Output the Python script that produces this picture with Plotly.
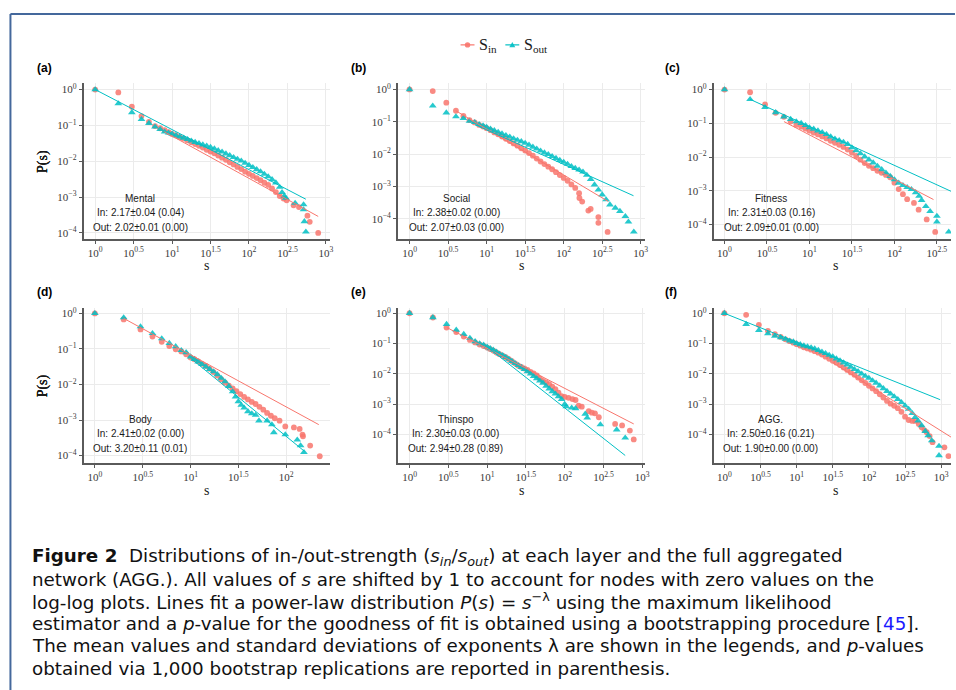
import plotly.graph_objects as go

W, H = 956, 690
SALMON = "#F8766D"
TEAL = "#00BFC4"

# ---------------- data (log10 s, log10 P(s)) ----------------
mental_in = [(0, 0), (.301, -.08), (.477, -.48), (.602, -.74), (.699, -.90), (.778, -1.02), (.845, -1.08), (.903, -1.13), (.954, -1.19), (1.0, -1.24),
             (1.05, -1.28), (1.10, -1.33), (1.15, -1.37), (1.20, -1.42), (1.25, -1.47), (1.30, -1.52), (1.35, -1.57), (1.40, -1.62), (1.45, -1.68), (1.50, -1.73),
             (1.55, -1.78), (1.60, -1.84), (1.65, -1.90), (1.70, -1.96), (1.75, -2.03), (1.80, -2.09), (1.85, -2.16), (1.90, -2.22), (1.95, -2.29), (2.00, -2.35),
             (2.05, -2.41), (2.10, -2.47), (2.15, -2.53), (2.20, -2.60), (2.25, -2.66), (2.30, -2.76), (2.35, -2.86), (2.40, -2.97), (2.45, -3.04),
             (2.49, -3.09), (2.58, -3.23), (2.65, -3.28), (2.76, -3.52), (2.79, -3.69), (2.90, -4.00)]
mental_out = [(0, 0), (.301, -.39), (.477, -.64), (.602, -.83), (.699, -.94), (.778, -1.04), (.845, -1.11), (.903, -1.18), (.954, -1.21), (1.0, -1.24),
              (1.05, -1.28), (1.10, -1.32), (1.15, -1.35), (1.20, -1.39), (1.25, -1.43), (1.30, -1.47), (1.35, -1.50), (1.40, -1.54), (1.45, -1.57), (1.50, -1.61),
              (1.55, -1.65), (1.60, -1.70), (1.65, -1.74), (1.70, -1.79), (1.75, -1.84), (1.80, -1.89), (1.85, -1.94), (1.90, -1.99), (1.95, -2.05), (2.00, -2.11),
              (2.05, -2.17), (2.10, -2.23), (2.15, -2.29), (2.20, -2.36), (2.25, -2.43), (2.30, -2.51), (2.35, -2.60), (2.40, -2.72), (2.43, -2.87), (2.46, -2.97),
              (2.48, -3.03), (2.60, -3.17), (2.71, -3.21), (2.71, -3.35), (2.72, -3.68), (2.74, -3.97)]
social_in = [(0, 0), (.301, -.05), (.477, -.41), (.602, -.66), (.699, -.82), (.778, -.95), (.845, -1.02), (.903, -1.10), (.954, -1.15), (1.0, -1.20),
             (1.05, -1.26), (1.10, -1.33), (1.15, -1.39), (1.20, -1.46), (1.25, -1.53), (1.30, -1.60), (1.35, -1.67), (1.40, -1.74), (1.45, -1.82), (1.50, -1.89),
             (1.55, -1.97), (1.60, -2.05), (1.65, -2.14), (1.70, -2.23), (1.75, -2.31), (1.80, -2.39), (1.85, -2.47), (1.90, -2.56), (1.95, -2.65), (2.00, -2.74),
             (2.05, -2.83), (2.10, -2.94), (2.15, -3.05), (2.20, -3.21), (2.204, -3.36), (2.24, -3.47), (2.32, -3.75), (2.35, -3.70), (2.45, -3.95), (2.45, -4.13),
             (2.57, -4.41)]
social_out = [(0, 0), (.301, -.51), (.477, -.72), (.602, -.84), (.699, -.89), (.778, -.98), (.845, -1.02), (.903, -1.08), (.954, -1.12), (1.0, -1.17),
              (1.05, -1.22), (1.10, -1.27), (1.15, -1.32), (1.20, -1.37), (1.25, -1.42), (1.30, -1.47), (1.35, -1.52), (1.40, -1.57), (1.45, -1.61), (1.50, -1.66),
              (1.55, -1.72), (1.60, -1.78), (1.65, -1.84), (1.70, -1.90), (1.75, -1.96), (1.80, -2.01), (1.85, -2.07), (1.90, -2.13), (1.95, -2.19), (2.00, -2.25),
              (2.05, -2.31), (2.10, -2.38), (2.15, -2.44), (2.20, -2.49), (2.25, -2.55), (2.30, -2.65), (2.35, -2.78), (2.40, -2.95), (2.45, -3.11), (2.50, -3.26),
              (2.55, -3.41), (2.60, -3.57), (2.67, -3.67), (2.73, -3.77), (2.80, -3.93), (2.84, -4.10), (2.91, -4.41)]
fitness_in = [(0, 0), (.301, -.08), (.477, -.44), (.602, -.69), (.699, -.81), (.778, -.95), (.845, -1.05), (.903, -1.10), (.954, -1.16), (1.0, -1.22),
              (1.05, -1.28), (1.10, -1.33), (1.15, -1.39), (1.20, -1.45), (1.25, -1.52), (1.30, -1.58), (1.35, -1.64), (1.40, -1.70), (1.45, -1.78), (1.50, -1.87),
              (1.55, -1.97), (1.60, -2.08), (1.65, -2.18), (1.70, -2.26), (1.75, -2.33), (1.80, -2.41), (1.85, -2.47), (1.90, -2.53), (1.95, -2.60), (2.00, -2.76),
              (2.05, -2.95), (2.10, -3.10), (2.15, -3.25), (2.23, -3.36), (2.285, -3.56), (2.38, -3.85), (2.48, -4.22)]
fitness_out = [(0, 0), (.301, -.29), (.477, -.53), (.602, -.68), (.699, -.81), (.778, -.88), (.845, -.95), (.903, -1.00), (.954, -1.06), (1.0, -1.13),
               (1.05, -1.17), (1.10, -1.22), (1.15, -1.27), (1.20, -1.33), (1.25, -1.40), (1.30, -1.46), (1.35, -1.51), (1.40, -1.56), (1.45, -1.62), (1.50, -1.72),
               (1.55, -1.81), (1.60, -1.90), (1.65, -1.99), (1.70, -2.08), (1.75, -2.17), (1.80, -2.27), (1.85, -2.37), (1.90, -2.47), (1.95, -2.57), (2.00, -2.67),
               (2.05, -2.77), (2.10, -2.84), (2.15, -2.90), (2.20, -2.96), (2.25, -3.05), (2.29, -3.16), (2.32, -3.28), (2.37, -3.46), (2.42, -3.61), (2.50, -3.75),
               (2.50, -3.92), (2.64, -4.22)]
body_in = [(0, 0), (.301, -.17), (.477, -.45), (.602, -.65), (.699, -.80), (.778, -.92), (.845, -1.01), (.903, -1.07), (.954, -1.15), (1.0, -1.24),
           (1.04, -1.29), (1.08, -1.35), (1.12, -1.42), (1.16, -1.48), (1.20, -1.56), (1.24, -1.65), (1.28, -1.75), (1.32, -1.85), (1.36, -1.95), (1.40, -2.03),
           (1.44, -2.11), (1.48, -2.19), (1.52, -2.27), (1.56, -2.35), (1.60, -2.42), (1.64, -2.49), (1.68, -2.55), (1.72, -2.63), (1.76, -2.71), (1.80, -2.80),
           (1.84, -2.88), (1.88, -2.95), (1.93, -3.02), (1.99, -3.18), (2.08, -3.21), (2.14, -3.25), (2.17, -3.41), (2.175, -3.46), (2.25, -3.72), (2.35, -4.02)]
body_out = [(0, 0), (.301, -.12), (.477, -.37), (.602, -.56), (.699, -.71), (.778, -.84), (.845, -.93), (.903, -1.04), (.954, -1.10), (1.0, -1.22),
            (1.04, -1.29), (1.08, -1.36), (1.12, -1.43), (1.16, -1.50), (1.20, -1.57), (1.24, -1.64), (1.28, -1.72), (1.32, -1.82), (1.36, -1.92), (1.40, -2.05),
            (1.44, -2.20), (1.47, -2.35), (1.50, -2.48), (1.53, -2.58), (1.56, -2.66), (1.60, -2.76), (1.64, -2.82), (1.68, -2.86), (1.715, -3.02), (1.80, -3.02),
            (1.85, -3.13), (1.87, -3.35), (1.99, -3.41), (2.115, -3.56), (2.15, -3.72), (2.185, -3.91)]
thinspo_in = [(0, 0), (.301, -.14), (.477, -.47), (.602, -.62), (.699, -.77), (.778, -.88), (.845, -.96), (.903, -1.03), (.954, -1.08), (1.0, -1.13),
              (1.04, -1.18), (1.08, -1.23), (1.12, -1.29), (1.16, -1.35), (1.20, -1.40), (1.24, -1.45), (1.28, -1.51), (1.32, -1.58), (1.36, -1.65), (1.40, -1.72),
              (1.44, -1.77), (1.48, -1.82), (1.52, -1.87), (1.56, -1.93), (1.60, -1.98), (1.64, -2.05), (1.68, -2.15), (1.72, -2.23), (1.76, -2.28), (1.80, -2.34),
              (1.84, -2.42), (1.88, -2.50), (1.92, -2.62), (1.96, -2.73), (2.00, -2.76), (2.05, -2.79), (2.10, -2.83), (2.14, -2.86), (2.18, -3.05), (2.22, -3.08),
              (2.31, -3.23), (2.35, -3.28), (2.39, -3.30), (2.44, -3.43), (2.65, -3.65), (2.74, -3.70), (2.84, -3.87), (2.89, -4.16)]
thinspo_out = [(0, 0), (.301, -.14), (.477, -.36), (.602, -.55), (.699, -.69), (.778, -.82), (.845, -.93), (.903, -1.00), (.954, -1.04), (1.0, -1.11),
               (1.04, -1.16), (1.08, -1.21), (1.12, -1.27), (1.16, -1.34), (1.20, -1.39), (1.24, -1.45), (1.28, -1.51), (1.32, -1.58), (1.36, -1.65), (1.40, -1.72),
               (1.44, -1.78), (1.48, -1.85), (1.52, -1.92), (1.56, -2.00), (1.60, -2.08), (1.64, -2.15), (1.68, -2.23), (1.72, -2.30), (1.76, -2.40), (1.80, -2.49),
               (1.84, -2.58), (1.88, -2.66), (1.92, -2.75), (1.96, -2.84), (2.00, -3.00), (2.02, -3.08), (2.09, -3.12), (2.14, -3.14), (2.265, -3.32), (2.29, -3.45),
               (2.46, -3.67), (2.67, -3.84), (2.78, -4.11)]
agg_in = [(0, 0), (.301, -.05), (.477, -.38), (.602, -.58), (.699, -.69), (.778, -.78), (.845, -.86), (.903, -.92), (.954, -.97), (1.0, -1.02),
          (1.05, -1.07), (1.10, -1.12), (1.15, -1.16), (1.20, -1.20), (1.25, -1.25), (1.30, -1.30), (1.35, -1.36), (1.40, -1.43), (1.45, -1.50), (1.50, -1.57),
          (1.55, -1.63), (1.60, -1.71), (1.65, -1.79), (1.70, -1.87), (1.75, -1.95), (1.80, -2.03), (1.85, -2.12), (1.90, -2.21), (1.95, -2.30), (2.00, -2.39),
          (2.05, -2.48), (2.10, -2.57), (2.15, -2.67), (2.20, -2.78), (2.25, -2.89), (2.30, -2.98), (2.35, -3.05), (2.40, -3.13), (2.45, -3.25), (2.50, -3.41),
          (2.55, -3.52), (2.60, -3.55), (2.64, -3.55), (2.69, -3.65), (2.73, -3.76), (2.77, -3.86), (2.80, -3.92), (2.84, -4.05), (2.88, -4.25), (3.045, -4.42),
          (3.10, -4.71)]
agg_out = [(0, 0), (.301, -.36), (.477, -.56), (.602, -.67), (.699, -.75), (.778, -.80), (.845, -.85), (.903, -.91), (.954, -.94), (1.0, -.99),
           (1.05, -1.03), (1.10, -1.07), (1.15, -1.10), (1.20, -1.13), (1.25, -1.17), (1.30, -1.22), (1.35, -1.27), (1.40, -1.32), (1.45, -1.38), (1.50, -1.43),
           (1.55, -1.50), (1.60, -1.56), (1.65, -1.63), (1.70, -1.70), (1.75, -1.77), (1.80, -1.85), (1.85, -1.92), (1.90, -2.00), (1.95, -2.07), (2.00, -2.14),
           (2.05, -2.22), (2.10, -2.30), (2.15, -2.39), (2.20, -2.48), (2.25, -2.57), (2.30, -2.66), (2.35, -2.75), (2.40, -2.84), (2.45, -2.94), (2.50, -3.05),
           (2.55, -3.16), (2.60, -3.30), (2.64, -3.43), (2.68, -3.55), (2.73, -3.70), (2.78, -3.89), (2.82, -4.03), (2.87, -4.20), (2.97, -4.38), (2.97, -4.69)]

# fitted power-law lines: (log10 s, log10 P) at both ends
mental_fit_in = [(0.9, -1.18), (2.9, -3.54)]
mental_fit_out = [(0, 0), (2.74, -3.06)]
social_fit_in = [(0.6, -0.66), (2.58, -3.47)]
social_fit_out = [(0.85, -1.09), (2.906, -3.29)]
fitness_fit_in = [(0.7, -0.95), (2.46, -3.26)]
fitness_fit_out = [(0.301, -0.29), (2.67, -3.02)]
body_fit_in = [(0.301, -0.14), (2.34, -3.13)]
body_fit_out = [(1.0, -1.26), (2.19, -3.88)]
thinspo_fit_in = [(0.48, -0.47), (2.89, -3.65)]
thinspo_fit_out = [(1.0, -1.11), (2.78, -4.69)]
agg_fit_in = [(1.5, -1.63), (3.14, -4.09)]
agg_fit_out = [(0, 0), (2.986, -2.85)]

panel_tags = ["(a)", "(b)", "(c)", "(d)", "(e)", "(f)"]
panel_names = ["Mental", "Social", "Fitness", "Body", "Thinspo", "AGG."]
in_stats = ["In: 2.17±0.04 (0.04)", "In: 2.38±0.02 (0.00)", "In: 2.31±0.03 (0.16)",
            "In: 2.41±0.02 (0.00)", "In: 2.30±0.03 (0.00)", "In: 2.50±0.16 (0.21)"]
out_stats = ["Out: 2.02±0.01 (0.00)", "Out: 2.07±0.03 (0.00)", "Out: 2.09±0.01 (0.00)",
             "Out: 3.20±0.11 (0.01)", "Out: 2.94±0.28 (0.89)", "Out: 1.90±0.00 (0.00)"]
x_tick_exps = [0, 0.5, 1, 1.5, 2, 2.5, 3]
x_tick_labels = ["0", "0.5", "1", "1.5", "2", "2.5", "3"]
y_tick_exps = [0, -1, -2, -3, -4]
y_tick_labels = ["0", "−1", "−2", "−3", "−4"]
legend_labels = ["S<sub>in</sub>", "S<sub>out</sub>"]

in_series = [mental_in, social_in, fitness_in, body_in, thinspo_in, agg_in]
out_series = [mental_out, social_out, fitness_out, body_out, thinspo_out, agg_out]
fit_in = [mental_fit_in, social_fit_in, fitness_fit_in, body_fit_in, thinspo_fit_in, agg_fit_in]
fit_out = [mental_fit_out, social_fit_out, fitness_fit_out, body_fit_out, thinspo_fit_out, agg_fit_out]

# ---------------- layout (pixel geometry) ----------------
boxes = [(84, 332, 81.7, 237.7), (400, 648, 81.7, 237.7), (717.3, 956, 81.7, 237.7),
         (84, 332, 306.7, 462.7), (400, 648, 306.7, 462.7), (717.3, 956, 306.7, 462.7)]
x_ranges = [(-0.151, 3.057), (-0.151, 3.05), (-0.129, 2.666), (-0.118, 2.46), (-0.15, 3.03), (-0.15, 3.136)]
y_ranges = [(-4.17, 0.17), (-4.63, 0.185), (-4.43, 0.18), (-4.22, 0.157), (-4.95, 0.18), (-4.95, 0.18)]
text_centers = [(141, 196.7), (458.5, 196.7), (775.5, 196.7), (141, 418.3), (458, 418.3), (775, 418.3)]
tag_pos = [(35, 66.5), (351, 66.5), (666, 66.5), (35, 291), (351, 291), (666, 291)]
s_title_x = [208, 524, 840, 208, 524, 840]


def fx(px):
    return px / W


def fy(py):
    return 1 - py / H


def unlog(pts):
    return [10 ** a for a, _ in pts], [10 ** b for _, b in pts]


fig = go.Figure()
annotations = []
AX = dict(linecolor="#5a5a5a", linewidth=1.6, showline=True, mirror=False, ticks="outside",
          ticklen=3, tickwidth=1.2, tickcolor="#5a5a5a", showgrid=True, gridcolor="#ebebeb",
          gridwidth=1, zeroline=False, type="log",
          tickfont=dict(family="Liberation Serif", size=11, color="#3a3a3a"))

for i in range(6):
    n = "" if i == 0 else str(i + 1)
    xa, ya = "x" + n, "y" + n
    x0, x1, y0, y1 = boxes[i]
    fig.update_layout(**{
        "xaxis" + n: dict(AX, domain=[fx(x0), fx(x1)], range=list(x_ranges[i]), anchor=ya,
                          tickvals=[10 ** v for v in x_tick_exps],
                          ticktext=["10<sup>%s</sup>" % t for t in x_tick_labels]),
        "yaxis" + n: dict(AX, domain=[fy(y1), fy(y0)], range=list(y_ranges[i]), anchor=xa,
                          tickvals=[10 ** v for v in y_tick_exps],
                          ticktext=["10<sup>%s</sup>" % t for t in y_tick_labels]),
    })
    xs, ys = unlog(in_series[i])
    fig.add_trace(go.Scatter(x=xs, y=ys, mode="markers", xaxis=xa, yaxis=ya, showlegend=False,
                             marker=dict(symbol="circle", size=5.8, color=SALMON, opacity=0.85)))
    xs, ys = unlog(out_series[i])
    fig.add_trace(go.Scatter(x=xs, y=ys, mode="markers", xaxis=xa, yaxis=ya, showlegend=False,
                             marker=dict(symbol="triangle-up", size=6.8, color=TEAL, opacity=0.85)))
    xs, ys = unlog(fit_in[i])
    fig.add_trace(go.Scatter(x=xs, y=ys, mode="lines", xaxis=xa, yaxis=ya, showlegend=False,
                             line=dict(color=SALMON, width=1)))
    xs, ys = unlog(fit_out[i])
    fig.add_trace(go.Scatter(x=xs, y=ys, mode="lines", xaxis=xa, yaxis=ya, showlegend=False,
                             line=dict(color=TEAL, width=1)))

    cx, cy = text_centers[i]
    for k, txt in enumerate([panel_names[i], in_stats[i], out_stats[i]]):
        annotations.append(dict(x=fx(cx), y=fy(cy + 14.6 * k), xref="paper", yref="paper", text=txt,
                                showarrow=False, xanchor="center", yanchor="middle",
                                font=dict(family="Liberation Sans", size=10, color="#1a1a1a")))
    tx, ty = tag_pos[i]
    annotations.append(dict(x=fx(tx), y=fy(ty), xref="paper", yref="paper", text="<b>%s</b>" % panel_tags[i],
                            showarrow=False, xanchor="left", yanchor="middle",
                            font=dict(family="Liberation Sans", size=12, color="#000000")))
    annotations.append(dict(x=fx(43), y=fy((y0 + y1) / 2), xref="paper", yref="paper", text="P(s)",
                            showarrow=False, textangle=-90, xanchor="center", yanchor="middle",
                            font=dict(family="Liberation Serif", size=14, color="#1a1a1a")))
    annotations.append(dict(x=fx(s_title_x[i]), y=fy(y1 + 27), xref="paper", yref="paper", text="s",
                            showarrow=False, xanchor="center", yanchor="middle",
                            font=dict(family="Liberation Serif", size=14, color="#1a1a1a")))

# compact legend at the top (keys drawn as layout decorations)
shapes = []
key_x = [470, 515]
key_text_x = [480, 525]
key_y = 43
for j, col in enumerate([SALMON, TEAL]):
    kx = key_x[j]
    shapes.append(dict(type="line", xref="paper", yref="paper", x0=fx(kx - 7), x1=fx(kx + 7),
                       y0=fy(key_y), y1=fy(key_y), line=dict(color=col, width=1.2)))
    annotations.append(dict(x=fx(key_text_x[j]), y=fy(key_y + 0.5), xref="paper", yref="paper",
                            text=legend_labels[j], showarrow=False, xanchor="left", yanchor="middle",
                            font=dict(family="Liberation Serif", size=16, color="#1a1a1a")))
shapes.append(dict(type="circle", xref="paper", yref="paper", x0=fx(467.3), x1=fx(472.7),
                   y0=fy(45.7), y1=fy(40.3), fillcolor=SALMON, line=dict(width=0), opacity=0.9))
shapes.append(dict(type="path", xref="paper", yref="paper",
                   path="M %f,%f L %f,%f L %f,%f Z" % (fx(512), fy(45.5), fx(518), fy(45.5), fx(515), fy(40)),
                   fillcolor=TEAL, line=dict(width=0), opacity=0.9))

caption_lines = [
    "<b>Figure 2</b>  Distributions of in-/out-strength (<i>s<sub>in</sub></i>/<i>s<sub>out</sub></i>) at each layer and the full aggregated",
    "network (AGG.). All values of <i>s</i> are shifted by 1 to account for nodes with zero values on the",
    "log-log plots. Lines fit a power-law distribution <i>P</i>(<i>s</i>) = <i>s</i><sup>−λ</sup> using the maximum likelihood",
    "estimator and a <i>p</i>-value for the goodness of fit is obtained using a bootstrapping procedure [<span style='color:#1a1aff'>45</span>].",
    "The mean values and standard deviations of exponents λ are shown in the legends, and <i>p</i>-values",
    "obtained via 1,000 bootstrap replications are reported in parenthesis.",
]
for k, line in enumerate(caption_lines):
    annotations.append(dict(x=fx(30), y=fy(556.5 + 22.3 * k), xref="paper", yref="paper", text=line,
                            showarrow=False, xanchor="left", yanchor="middle",
                            font=dict(family="DejaVu Sans", size=18.3, color="#111111")))

shapes += [
    dict(type="line", xref="paper", yref="paper", x0=fx(10.5), x1=fx(960), y0=fy(12), y1=fy(12),
         line=dict(color="#44689c", width=2)),
    dict(type="line", xref="paper", yref="paper", x0=fx(10.5), x1=fx(10.5), y0=fy(12), y1=fy(695),
         line=dict(color="#44689c", width=2)),
]

fig.update_layout(
    width=W, height=H, margin=dict(l=0, r=0, t=0, b=0),
    paper_bgcolor="white", plot_bgcolor="white", showlegend=False,
    annotations=annotations, shapes=shapes,
)

fig.write_html("out.html", config={"displayModeBar": False},
               post_script="document.body.style.margin='0';document.body.style.overflow='hidden';")
